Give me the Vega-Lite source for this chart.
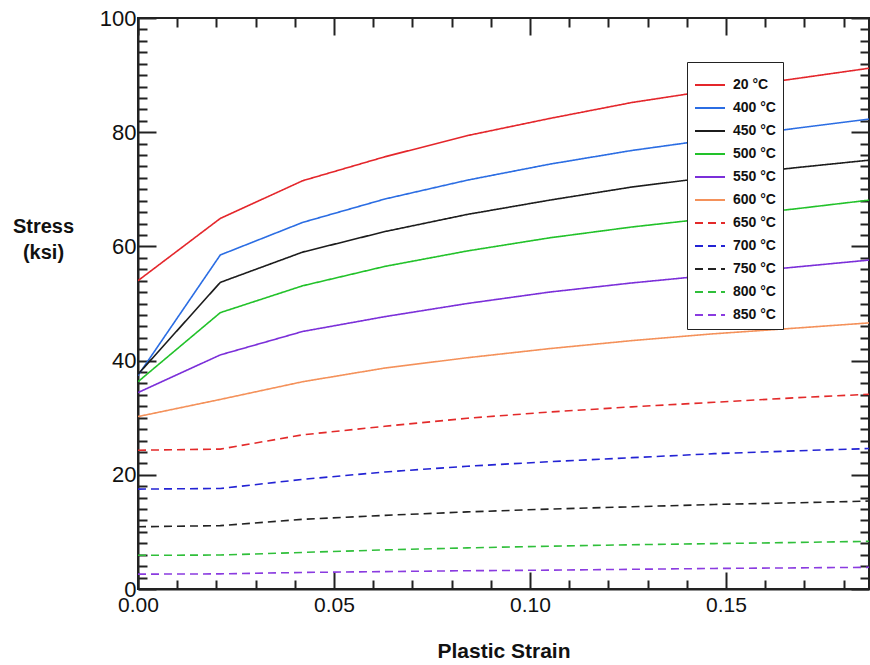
{
  "$schema": "https://vega.github.io/schema/vega-lite/v6.json",
  "width": 731,
  "height": 571,
  "autosize": {"type": "none"},
  "padding": {"left": 138, "top": 18, "right": 1, "bottom": 76},
  "config": {
    "font": "Liberation Sans",
    "view": {"stroke": "#222222", "strokeWidth": 2}
  },
  "data": {"values": [
    {"t":"20 °C","x":0,"y":54.0},{"t":"20 °C","x":0.021,"y":64.9},{"t":"20 °C","x":0.042,"y":71.5},{"t":"20 °C","x":0.063,"y":75.7},{"t":"20 °C","x":0.084,"y":79.4},{"t":"20 °C","x":0.105,"y":82.4},{"t":"20 °C","x":0.126,"y":85.2},{"t":"20 °C","x":0.147,"y":87.4},{"t":"20 °C","x":0.168,"y":89.4},{"t":"20 °C","x":0.1865,"y":91.2},
    {"t":"400 °C","x":0,"y":37.4},{"t":"400 °C","x":0.021,"y":58.5},{"t":"400 °C","x":0.042,"y":64.2},{"t":"400 °C","x":0.063,"y":68.3},{"t":"400 °C","x":0.084,"y":71.6},{"t":"400 °C","x":0.105,"y":74.4},{"t":"400 °C","x":0.126,"y":76.8},{"t":"400 °C","x":0.147,"y":78.8},{"t":"400 °C","x":0.168,"y":80.7},{"t":"400 °C","x":0.1865,"y":82.3},
    {"t":"450 °C","x":0,"y":37.6},{"t":"450 °C","x":0.021,"y":53.7},{"t":"450 °C","x":0.042,"y":59.0},{"t":"450 °C","x":0.063,"y":62.6},{"t":"450 °C","x":0.084,"y":65.6},{"t":"450 °C","x":0.105,"y":68.1},{"t":"450 °C","x":0.126,"y":70.4},{"t":"450 °C","x":0.147,"y":72.2},{"t":"450 °C","x":0.168,"y":73.8},{"t":"450 °C","x":0.1865,"y":75.1},
    {"t":"500 °C","x":0,"y":36.3},{"t":"500 °C","x":0.021,"y":48.4},{"t":"500 °C","x":0.042,"y":53.1},{"t":"500 °C","x":0.063,"y":56.5},{"t":"500 °C","x":0.084,"y":59.2},{"t":"500 °C","x":0.105,"y":61.5},{"t":"500 °C","x":0.126,"y":63.4},{"t":"500 °C","x":0.147,"y":65.0},{"t":"500 °C","x":0.168,"y":66.6},{"t":"500 °C","x":0.1865,"y":68.1},
    {"t":"550 °C","x":0,"y":34.4},{"t":"550 °C","x":0.021,"y":41.0},{"t":"550 °C","x":0.042,"y":45.1},{"t":"550 °C","x":0.063,"y":47.7},{"t":"550 °C","x":0.084,"y":50.0},{"t":"550 °C","x":0.105,"y":52.0},{"t":"550 °C","x":0.126,"y":53.6},{"t":"550 °C","x":0.147,"y":55.0},{"t":"550 °C","x":0.168,"y":56.4},{"t":"550 °C","x":0.1865,"y":57.6},
    {"t":"600 °C","x":0,"y":30.2},{"t":"600 °C","x":0.021,"y":33.2},{"t":"600 °C","x":0.042,"y":36.3},{"t":"600 °C","x":0.063,"y":38.7},{"t":"600 °C","x":0.084,"y":40.5},{"t":"600 °C","x":0.105,"y":42.1},{"t":"600 °C","x":0.126,"y":43.5},{"t":"600 °C","x":0.147,"y":44.7},{"t":"600 °C","x":0.168,"y":45.7},{"t":"600 °C","x":0.1865,"y":46.6},
    {"t":"650 °C","x":0,"y":24.3},{"t":"650 °C","x":0.021,"y":24.5},{"t":"650 °C","x":0.042,"y":27.0},{"t":"650 °C","x":0.063,"y":28.5},{"t":"650 °C","x":0.084,"y":29.9},{"t":"650 °C","x":0.105,"y":31.0},{"t":"650 °C","x":0.126,"y":31.9},{"t":"650 °C","x":0.147,"y":32.7},{"t":"650 °C","x":0.168,"y":33.5},{"t":"650 °C","x":0.1865,"y":34.1},
    {"t":"700 °C","x":0,"y":17.5},{"t":"700 °C","x":0.021,"y":17.6},{"t":"700 °C","x":0.042,"y":19.2},{"t":"700 °C","x":0.063,"y":20.5},{"t":"700 °C","x":0.084,"y":21.5},{"t":"700 °C","x":0.105,"y":22.3},{"t":"700 °C","x":0.126,"y":23.0},{"t":"700 °C","x":0.147,"y":23.7},{"t":"700 °C","x":0.168,"y":24.2},{"t":"700 °C","x":0.1865,"y":24.6},
    {"t":"750 °C","x":0,"y":10.9},{"t":"750 °C","x":0.021,"y":11.1},{"t":"750 °C","x":0.042,"y":12.2},{"t":"750 °C","x":0.063,"y":12.9},{"t":"750 °C","x":0.084,"y":13.5},{"t":"750 °C","x":0.105,"y":14.0},{"t":"750 °C","x":0.126,"y":14.4},{"t":"750 °C","x":0.147,"y":14.8},{"t":"750 °C","x":0.168,"y":15.1},{"t":"750 °C","x":0.1865,"y":15.4},
    {"t":"800 °C","x":0,"y":5.9},{"t":"800 °C","x":0.021,"y":5.95},{"t":"800 °C","x":0.042,"y":6.4},{"t":"800 °C","x":0.063,"y":6.85},{"t":"800 °C","x":0.084,"y":7.2},{"t":"800 °C","x":0.105,"y":7.5},{"t":"800 °C","x":0.126,"y":7.75},{"t":"800 °C","x":0.147,"y":7.95},{"t":"800 °C","x":0.168,"y":8.15},{"t":"800 °C","x":0.1865,"y":8.35},
    {"t":"850 °C","x":0,"y":2.6},{"t":"850 °C","x":0.021,"y":2.65},{"t":"850 °C","x":0.042,"y":2.9},{"t":"850 °C","x":0.063,"y":3.05},{"t":"850 °C","x":0.084,"y":3.2},{"t":"850 °C","x":0.105,"y":3.3},{"t":"850 °C","x":0.126,"y":3.45},{"t":"850 °C","x":0.147,"y":3.6},{"t":"850 °C","x":0.168,"y":3.7},{"t":"850 °C","x":0.1865,"y":3.8}
  ]},
  "layer": [
    {
      "mark": {"type": "line", "strokeWidth": 1.6, "clip": true},
      "encoding": {
        "x": {
          "field": "x", "type": "quantitative",
          "scale": {"domain": [0, 0.1865], "nice": false, "zero": false},
          "axis": {
            "orient": "bottom",
            "title": "Plastic Strain",
            "titleFontSize": 21, "titleFontWeight": "bold", "titleColor": "#111111",
            "titlePadding": 17,
            "values": [0,0.01,0.02,0.03,0.04,0.05,0.06,0.07,0.08,0.09,0.1,0.11,0.12,0.13,0.14,0.15,0.16,0.17,0.18],
            "labelExpr": "round(datum.value*100) % 5 === 0 ? format(datum.value, '.2f') : ''",
            "labelFontSize": 21, "labelColor": "#111111", "labelOverlap": false, "labelFlush": false,
            "labelPadding": 22,
            "grid": false,
            "domainColor": "#222222", "domainWidth": 2,
            "tickColor": "#222222", "tickWidth": 2,
            "tickSize": {"condition": {"test": "round(datum.value*100) % 5 === 0", "value": -17}, "value": -9}
          }
        },
        "y": {
          "field": "y", "type": "quantitative",
          "scale": {"domain": [0, 100], "nice": false},
          "axis": {
            "orient": "left",
            "title": ["Stress", "(ksi)"],
            "titleAngle": 0, "titleAlign": "center", "titleBaseline": "top",
            "titleX": -95, "titleY": 198, "titleLineHeight": 26,
            "titleFontSize": 20, "titleFontWeight": "bold", "titleColor": "#111111",
            "values": [0,2,4,6,8,10,12,14,16,18,20,22,24,26,28,30,32,34,36,38,40,42,44,46,48,50,52,54,56,58,60,62,64,66,68,70,72,74,76,78,80,82,84,86,88,90,92,94,96,98,100],
            "labelExpr": "datum.value % 20 === 0 ? datum.label : ''",
            "labelFontSize": 22, "labelColor": "#111111", "labelOverlap": false, "labelFlush": false,
            "labelPadding": 20,
            "grid": false,
            "domainColor": "#222222", "domainWidth": 2,
            "tickColor": "#222222", "tickWidth": 2,
            "tickSize": {"condition": {"test": "datum.value % 20 === 0", "value": -18}, "value": -9}
          }
        },
        "color": {
          "field": "t", "type": "nominal",
          "scale": {
            "domain": ["20 °C","400 °C","450 °C","500 °C","550 °C","600 °C","650 °C","700 °C","750 °C","800 °C","850 °C"],
            "range": ["#e4262b","#2b6de3","#1c1c1c","#22c22a","#7b2fd9","#f4915a","#e32a2a","#2323d4","#222222","#2fbf3a","#8a3be0"]
          },
          "legend": {
            "title": null,
            "orient": "none", "legendX": 549, "legendY": 44,
            "direction": "vertical",
            "strokeColor": "#222222", "fillColor": "white",
            "padding": 7,
            "symbolType": "stroke", "symbolSize": 900, "symbolStrokeWidth": 2,
            "labelFontSize": 14, "labelFontWeight": "bold", "labelColor": "#111111",
            "labelOffset": 7,
            "rowPadding": 0
          }
        },
        "strokeDash": {
          "field": "t", "type": "nominal",
          "scale": {
            "domain": ["20 °C","400 °C","450 °C","500 °C","550 °C","600 °C","650 °C","700 °C","750 °C","800 °C","850 °C"],
            "range": [[1,0],[1,0],[1,0],[1,0],[1,0],[1,0],[8,5],[8,5],[8,5],[8,5],[8,5]]
          }
        }
      }
    },
    {
      "mark": {"type": "point", "opacity": 0},
      "encoding": {
        "x": {
          "field": "x", "type": "quantitative",
          "axis": {
            "orient": "top", "title": null, "labels": false, "domain": false, "grid": false,
            "values": [0,0.01,0.02,0.03,0.04,0.05,0.06,0.07,0.08,0.09,0.1,0.11,0.12,0.13,0.14,0.15,0.16,0.17,0.18],
            "tickColor": "#222222", "tickWidth": 2,
            "tickSize": {"condition": {"test": "round(datum.value*100) % 5 === 0", "value": -17}, "value": -9}
          }
        },
        "y": {
          "field": "y", "type": "quantitative",
          "axis": {
            "orient": "right", "title": null, "labels": false, "domain": false, "grid": false,
            "values": [0,2,4,6,8,10,12,14,16,18,20,22,24,26,28,30,32,34,36,38,40,42,44,46,48,50,52,54,56,58,60,62,64,66,68,70,72,74,76,78,80,82,84,86,88,90,92,94,96,98,100],
            "tickColor": "#222222", "tickWidth": 2,
            "tickSize": {"condition": {"test": "datum.value % 20 === 0", "value": -18}, "value": -9}
          }
        }
      }
    }
  ],
  "resolve": {"axis": {"x": "independent", "y": "independent"}}
}
